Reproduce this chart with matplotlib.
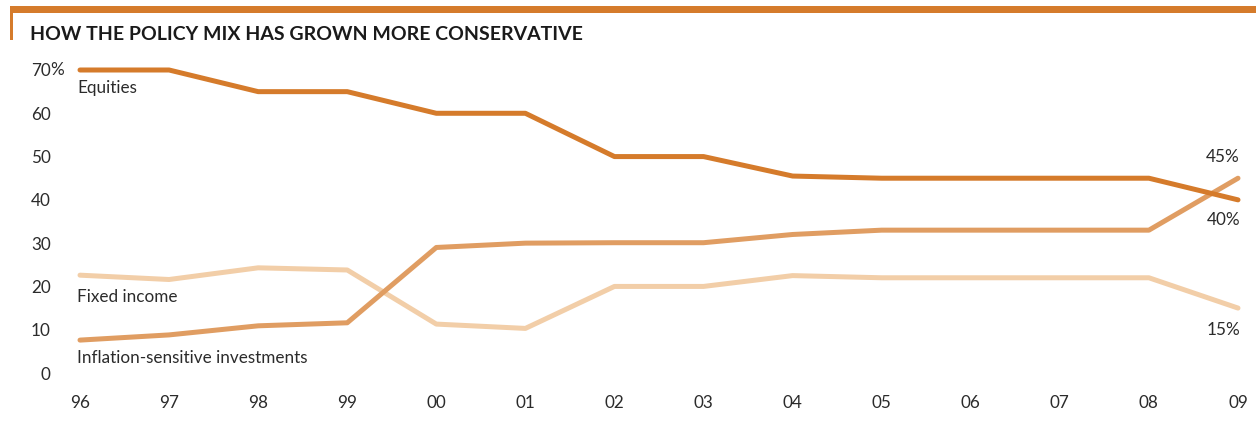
import numpy as np
import matplotlib.pyplot as plt
from matplotlib.patches import Rectangle

plt.rcParams['font.family'] = ['Lato', 'DejaVu Sans']

years = ['96', '97', '98', '99', '00', '01', '02', '03', '04', '05', '06', '07', '08', '09']
equities = [70, 70, 65, 65, 60, 60, 50, 50, 45.5, 45, 45, 45, 45, 40]
rising = [7.6, 8.8, 10.9, 11.6, 29, 30, 30.1, 30.1, 32, 33, 33, 33, 33, 45]
falling = [22.6, 21.6, 24.3, 23.8, 11.3, 10.3, 20, 20, 22.5, 22, 22, 22, 22, 15]
yticks = [0, 10, 20, 30, 40, 50, 60, 70]

c_eq = '#D57B2B'
c_mid = '#E09D62'
c_light = '#F2CEA8'
txt = '#2b2b2b'
fs = 12.3

W, H = 1256, 433
fig = plt.figure(figsize=(W / 100, H / 100), dpi=100)
ax = fig.add_axes([80 / W, 60 / H, (1238 - 80) / W, 303 / H])

x = np.arange(len(years))
ax.plot(x, falling, color=c_light, lw=3.6, solid_capstyle='round', solid_joinstyle='round', clip_on=False)
ax.plot(x, rising, color=c_mid, lw=3.6, solid_capstyle='round', solid_joinstyle='round', clip_on=False)
ax.plot(x, equities, color=c_eq, lw=3.6, solid_capstyle='round', solid_joinstyle='round', clip_on=False)

ax.set_xlim(0, len(years) - 1)
ax.set_ylim(0, 70)
ax.set_xticks(x)
ax.set_xticklabels(years, fontsize=fs, color=txt)
ax.set_yticks(yticks)
ax.set_yticklabels([str(v) for v in yticks], fontsize=fs, color=txt)
ax.tick_params(length=0)
ax.tick_params(axis='x', pad=16)
ax.tick_params(axis='y', pad=21)
for s in ax.spines.values():
    s.set_visible(False)

# percent sign on top tick
ax.annotate('%', xy=(0, 70), xycoords=('axes fraction', 'data'), xytext=(-30, 0),
            textcoords='offset pixels', ha='left', va='center', fontsize=fs, color=txt)

# series labels
ax.annotate('Equities', xy=(0, 70), xytext=(-3, -18), textcoords='offset pixels',
            ha='left', va='center', fontsize=fs, color=txt)
ax.annotate('Fixed income', xy=(0, 17.6), xytext=(-3, 0), textcoords='offset pixels',
            ha='left', va='center', fontsize=fs, color=txt)
ax.annotate('Inflation-sensitive investments', xy=(0, 3.5), xytext=(-3, 0), textcoords='offset pixels',
            ha='left', va='center', fontsize=fs, color=txt)

# end labels
n = len(years) - 1
ax.annotate('45%', xy=(n, rising[-1]), xytext=(2, 21), textcoords='offset pixels',
            ha='right', va='center', fontsize=fs, color=txt)
ax.annotate('40%', xy=(n, equities[-1]), xytext=(2, -20), textcoords='offset pixels',
            ha='right', va='center', fontsize=fs, color=txt)
ax.annotate('15%', xy=(n, falling[-1]), xytext=(2, -22), textcoords='offset pixels',
            ha='right', va='center', fontsize=fs, color=txt)

# header rule
fig.patches.append(Rectangle((10 / W, 1 - 13 / H), 1 - 10 / W, 7 / H, transform=fig.transFigure,
                             color=c_eq, lw=0))
fig.patches.append(Rectangle((10 / W, 1 - 40 / H), 3 / W, 33 / H, transform=fig.transFigure,
                             color=c_eq, lw=0))
fig.text(30 / W, 1 - 34 / H, 'HOW THE POLICY MIX HAS GROWN MORE CONSERVATIVE',
         fontsize=14, fontweight='bold', color='#1a1a1a', ha='left', va='center')

fig.savefig('out.png', dpi=100)
